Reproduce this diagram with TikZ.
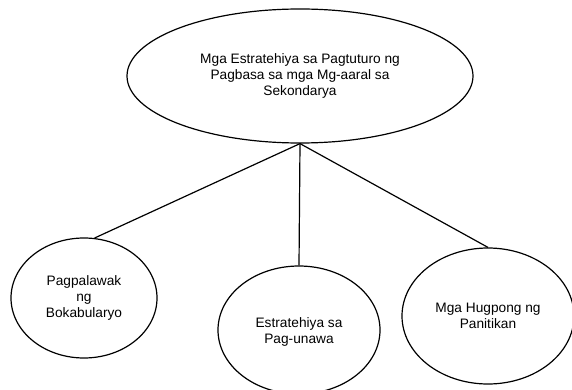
\documentclass[tikz,border=0pt]{standalone}
\usepackage{fontspec}
\setmainfont{Liberation Sans}
\usetikzlibrary{shapes.geometric}
\begin{document}
\begin{tikzpicture}[x=1pt,y=1pt,
  bubble/.style={ellipse,draw=black,line width=1.2pt,inner sep=0pt,align=center,
    font=\fontsize{13.7}{16}\selectfont},
  link/.style={draw=black,line width=1.2pt}]
\useasboundingbox (0,0) rectangle (572,389);
\node[bubble,minimum width=346pt,minimum height=134pt] (top) at (300,313)
  {Mga Estratehiya sa Pagtuturo ng\\Pagbasa sa mga Mg-aaral sa\\Sekondarya};
\node[bubble,minimum width=146pt,minimum height=120pt] (left) at (84,91)
  {Pagpalawak\\ng\\Bokabularyo};
\node[bubble,minimum width=162pt,minimum height=128pt] (mid) at (299,59)
  {\\[-2pt]Estratehiya sa\\Pag-unawa};
\node[bubble,minimum width=172pt,minimum height=136pt] (right) at (488,73)
  {Mga Hugpong ng\\Panitikan};
\draw[link] (top.south) -- (left.80);
\draw[link] (top.south) -- (mid.north);
\draw[link] (top.south) -- (right.north);
\end{tikzpicture}
\end{document}
